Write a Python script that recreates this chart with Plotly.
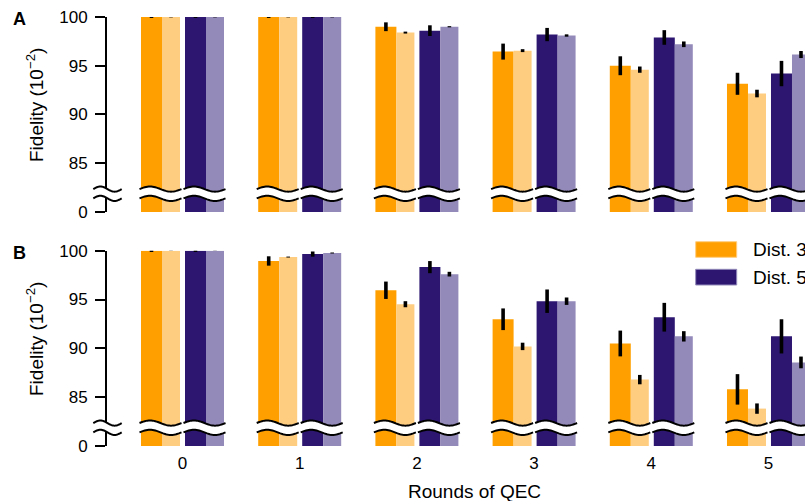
import numpy as np
import plotly.graph_objects as go

# ---------------- data ----------------
rounds = [0, 1, 2, 3, 4, 5]
round_labels = ["0", "1", "2", "3", "4", "5"]

# Panel A
a_d3_exp = [100.0, 100.0, 99.0, 96.45, 95.0, 93.15]
a_d3_exp_err = [0.1, 0.1, 0.45, 0.82, 0.97, 1.13]
a_d3_sim = [100.0, 100.0, 98.4, 96.55, 94.6, 92.15]
a_d3_sim_err = [0.04, 0.04, 0.1, 0.15, 0.32, 0.39]
a_d5_exp = [100.0, 100.0, 98.6, 98.2, 97.9, 94.2]
a_d5_exp_err = [0.1, 0.1, 0.55, 0.68, 0.75, 1.3]
a_d5_sim = [100.0, 100.0, 99.0, 98.1, 97.2, 96.15]
a_d5_sim_err = [0.04, 0.04, 0.06, 0.12, 0.29, 0.36]

# Panel B
b_d3_exp = [100.0, 98.95, 95.95, 92.98, 90.5, 85.8]
b_d3_exp_err = [0.12, 0.48, 0.89, 1.11, 1.32, 1.56]
b_d3_sim = [100.0, 99.35, 94.52, 90.2, 86.8, 83.83]
b_d3_sim_err = [0.04, 0.05, 0.31, 0.38, 0.48, 0.53]
b_d5_exp = [100.0, 99.66, 98.32, 94.83, 93.19, 91.23]
b_d5_exp_err = [0.12, 0.27, 0.62, 1.2, 1.47, 1.75]
b_d5_sim = [100.0, 99.76, 97.6, 94.83, 91.23, 88.56]
b_d5_sim_err = [0.04, 0.05, 0.24, 0.38, 0.53, 0.6]

y_tickvals = [80, 85, 90, 95, 100]
y_ticktext = ["0", "85", "90", "95", "100"]
legend_labels = ["Dist. 3", "Dist. 5"]

# ---------------- style ----------------
C_D3 = "#FFA000"
C_D3_L = "#FFCD80"
C_D5 = "#2C1670"
C_D5_L = "#948ABA"
FONT = "Liberation Sans, Arial, Helvetica, sans-serif"

W, H = 805, 501
ML, MR, MT, MB = 107, 0, 17, 55
PW = W - ML - MR
PH = H - MT - MB

BREAK_BASE = 80.0          # axis value where "0" is drawn
Y_RANGE = [80, 100]
X_RANGE = [-0.6442, 5.3115]
DOM_A = [0.5455, 1.0]
DOM_B = [0.0, 0.4552]

PXU = PW / (X_RANGE[1] - X_RANGE[0])   # px per x unit
OFF_O, W_O = -41.5 / 117.2, 21 / 117.2
OFF_OL, W_OL = -20.5 / 117.2, 18 / 117.2
OFF_P, W_P = 2.5 / 117.2, 21 / 117.2
OFF_PL, W_PL = 23.5 / 117.2, 18 / 117.2

fig = go.Figure()


def add_panel(vals, errs, xa, ya):
    specs = [(OFF_O, W_O, C_D3), (OFF_OL, W_OL, C_D3_L),
             (OFF_P, W_P, C_D5), (OFF_PL, W_PL, C_D5_L)]
    for (off, w, col), v, e in zip(specs, vals, errs):
        fig.add_trace(go.Bar(
            x=rounds, y=[vv - BREAK_BASE for vv in v], base=BREAK_BASE,
            offset=off, width=w, marker=dict(color=col, line=dict(width=0)),
            error_y=dict(type="data", array=e, thickness=3.6, width=0, color="black"),
            xaxis=xa, yaxis=ya, showlegend=False, cliponaxis=False,
        ))


add_panel([a_d3_exp, a_d3_sim, a_d5_exp, a_d5_sim],
          [a_d3_exp_err, a_d3_sim_err, a_d5_exp_err, a_d5_sim_err], "x", "y")
add_panel([b_d3_exp, b_d3_sim, b_d5_exp, b_d5_sim],
          [b_d3_exp_err, b_d3_sim_err, b_d5_exp_err, b_d5_sim_err], "x2", "y2")


def xd2p(x):
    return (x - X_RANGE[0]) / (X_RANGE[1] - X_RANGE[0])


def xpx2p(px):
    return (px - ML) / PW


def ypx2p(py):
    return (H - MB - py) / PH


def yd2p(v, dom):
    return dom[0] + (v - Y_RANGE[0]) / (Y_RANGE[1] - Y_RANGE[0]) * (dom[1] - dom[0])


shapes = []
AMP_PX = 2.6


def wave_break(xl, xr, dom):
    yu = yd2p(82.35, dom)
    yl = yd2p(81.4, dom)
    amp = AMP_PX / PH
    t = np.linspace(0, 1, 33)
    xs = xl + t * (xr - xl)
    up = [(x, yu + amp * np.sin(2 * np.pi * tt)) for x, tt in zip(xs, t)]
    lo = [(x, yl + amp * np.sin(2 * np.pi * tt)) for x, tt in zip(xs, t)]
    fillpts = up + lo[::-1]
    p = "M " + " L ".join(f"{x:.5f},{y:.5f}" for x, y in fillpts) + " Z"
    shapes.append(dict(type="path", path=p, xref="paper", yref="paper",
                       fillcolor="white", line=dict(width=0), layer="above"))
    s = ("M " + " L ".join(f"{x:.5f},{y:.5f}" for x, y in up) +
         " M " + " L ".join(f"{x:.5f},{y:.5f}" for x, y in lo))
    shapes.append(dict(type="path", path=s, xref="paper", yref="paper",
                       line=dict(color="black", width=2), layer="above"))


for dom in (DOM_A, DOM_B):
    wave_break(xpx2p(93.3), xpx2p(121.7), dom)
    for g in rounds:
        ext = 1.5 / PXU
        wave_break(xd2p(g + OFF_O - ext), xd2p(g + OFF_OL + W_OL + ext), dom)
        wave_break(xd2p(g + OFF_P - ext), xd2p(g + OFF_PL + W_PL + ext), dom)

# legend swatches
for (y0, y1), col, lcol in [((241.7, 257.3), C_D3, C_D3_L), ((269.3, 285.0), C_D5, C_D5_L)]:
    shapes.append(dict(type="rect", xref="paper", yref="paper",
                       x0=xpx2p(695.7), x1=xpx2p(736.7), y0=ypx2p(y1), y1=ypx2p(y0),
                       fillcolor=col, line=dict(color=lcol, width=1), layer="above"))

annotations = [
    dict(text=legend_labels[0], x=xpx2p(750.5), y=ypx2p(249.5), xref="paper", yref="paper",
         xanchor="left", yanchor="middle", showarrow=False, font=dict(size=19, color="black", family=FONT)),
    dict(text=legend_labels[1], x=xpx2p(750.5), y=ypx2p(277.2), xref="paper", yref="paper",
         xanchor="left", yanchor="middle", showarrow=False, font=dict(size=19, color="black", family=FONT)),
    dict(text="<b>A</b>", x=xpx2p(11), y=ypx2p(18.5), xref="paper", yref="paper",
         xanchor="left", yanchor="middle", showarrow=False, font=dict(size=18, color="black", family=FONT)),
    dict(text="<b>B</b>", x=xpx2p(11), y=ypx2p(252.5), xref="paper", yref="paper",
         xanchor="left", yanchor="middle", showarrow=False, font=dict(size=18, color="black", family=FONT)),
    dict(text="Fidelity (10<sup>−2</sup>)", x=xpx2p(35), y=ypx2p(105), xref="paper", yref="paper",
         xanchor="center", yanchor="middle", textangle=-90, showarrow=False,
         font=dict(size=19, color="black", family=FONT)),
    dict(text="Fidelity (10<sup>−2</sup>)", x=xpx2p(35), y=ypx2p(339), xref="paper", yref="paper",
         xanchor="center", yanchor="middle", textangle=-90, showarrow=False,
         font=dict(size=19, color="black", family=FONT)),
    dict(text="Rounds of QEC", x=xpx2p(475), y=ypx2p(492), xref="paper", yref="paper",
         xanchor="center", yanchor="middle", showarrow=False,
         font=dict(size=19, color="black", family=FONT)),
]

yaxis_common = dict(range=Y_RANGE, tickvals=y_tickvals, ticktext=y_ticktext,
                    ticks="outside", ticklen=10, tickwidth=2, tickcolor="black",
                    showline=True, linewidth=2, linecolor="black", showgrid=False,
                    zeroline=False, ticklabelstandoff=4, fixedrange=True,
                    tickfont=dict(size=17, color="black", family=FONT))
xaxis_common = dict(range=X_RANGE, showline=False, showgrid=False, zeroline=False,
                    ticks="", tickvals=rounds, ticktext=round_labels, fixedrange=True,
                    tickfont=dict(size=17, color="black", family=FONT))

fig.update_layout(
    width=W, height=H,
    margin=dict(l=ML, r=MR, t=MT, b=MB, pad=0),
    paper_bgcolor="white", plot_bgcolor="white",
    barmode="overlay", showlegend=False, hovermode=False,
    font=dict(family=FONT, color="black"),
    xaxis=dict(**xaxis_common, anchor="y", showticklabels=False),
    yaxis=dict(**yaxis_common, domain=DOM_A, anchor="x"),
    xaxis2=dict(**xaxis_common, anchor="y2", showticklabels=True, ticklabelstandoff=5),
    yaxis2=dict(**yaxis_common, domain=DOM_B, anchor="x2"),
    shapes=shapes,
    annotations=annotations,
)

fig.write_html("out.html", config={"displayModeBar": False, "staticPlot": True},
               post_script="document.body.style.margin='0px';document.body.style.overflow='hidden';")
